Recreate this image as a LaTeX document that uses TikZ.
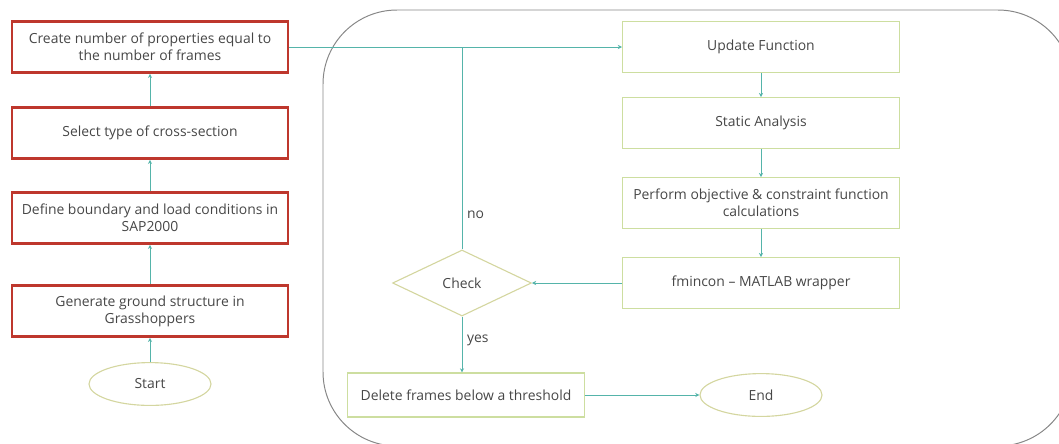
\documentclass[tikz,border=0pt]{standalone}
\usepackage{fontspec}
\setmainfont{Open Sans}
\usetikzlibrary{arrows.meta,positioning,shapes.geometric}
\definecolor{boxred}{RGB}{190,55,45}
\definecolor{boxgreen}{RGB}{205,222,160}
\definecolor{ovalgreen}{RGB}{212,214,160}
\definecolor{linkteal}{RGB}{85,180,170}
\definecolor{txtgray}{RGB}{70,70,70}
\definecolor{framegray}{RGB}{135,135,135}

\begin{document}
\begin{tikzpicture}[
  x=0.025cm, y=-0.025cm,
  font=\fontsize{9.9}{12}\selectfont, text=txtgray,
  redbox/.style={draw=boxred, line width=2pt, minimum width=6.9cm,
                 minimum height=1.27cm, align=center},
  greenbox/.style={draw=boxgreen, line width=0.8pt, minimum width=6.92cm,
                   minimum height=1.27cm, align=center},
  oval/.style={draw=ovalgreen, ellipse, line width=0.8pt,
               minimum width=3.05cm, minimum height=1.07cm},
  decision/.style={draw=ovalgreen, diamond, line width=0.8pt,
                   minimum width=3.47cm, minimum height=1.65cm, inner sep=0pt},
  arr/.style={-{Stealth[length=3pt,width=3pt]}, draw=linkteal, line width=0.6pt},
  link/.style={draw=linkteal, line width=0.6pt}
]
\useasboundingbox (0,0) rectangle (1059,443);
% outer loop frame
\begin{scope}
  \clip (0,0) rectangle (1059,443);
  \draw[framegray, line width=0.7pt, rounded corners=1.85cm] (323,10) rectangle (1072,446);
\end{scope}
% left column
\node[redbox] (props)   at (150,47)  {Create number of properties equal to\\the number of frames};
\node[redbox] (section) at (150,133) {Select type of cross-section};
\node[redbox] (bound)   at (150,218) {Define boundary and load conditions in\\SAP2000};
\node[redbox] (ground)  at (150,311) {Generate ground structure in\\Grasshoppers};
\node[oval]   (start)   at (150,384) {Start};
% right column
\node[greenbox] (update)  at (761,47)  {Update Function};
\node[greenbox] (static)  at (761,123) {Static Analysis};
\node[greenbox] (perform) at (761,203) {Perform objective \& constraint function\\calculations};
\node[greenbox] (fmincon) at (761,283) {fmincon -- MATLAB wrapper};
\node[decision] (check)   at (462,283) {Check};
\node[greenbox, minimum width=5.92cm, minimum height=1.1cm] (delete) at (466,395) {Delete frames below a threshold};
\node[oval] (finish) at (761,395) {End};
% connectors
\draw[arr] (start) -- (ground);
\draw[arr] (ground) -- (bound);
\draw[arr] (bound) -- (section);
\draw[arr] (section) -- (props);
\draw[arr] (props) -- (update);
\draw[arr] (update) -- (static);
\draw[arr] (static) -- (perform);
\draw[arr] (perform) -- (fmincon);
\draw[arr] (fmincon) -- (check);
\draw[link] (check) -- node[right, pos=0.17] {no} (check |- props);
\draw[arr] (check) -- node[right, pos=0.42] {yes} (check |- delete.north);
\draw[arr] (delete) -- (finish);
\end{tikzpicture}
\end{document}
